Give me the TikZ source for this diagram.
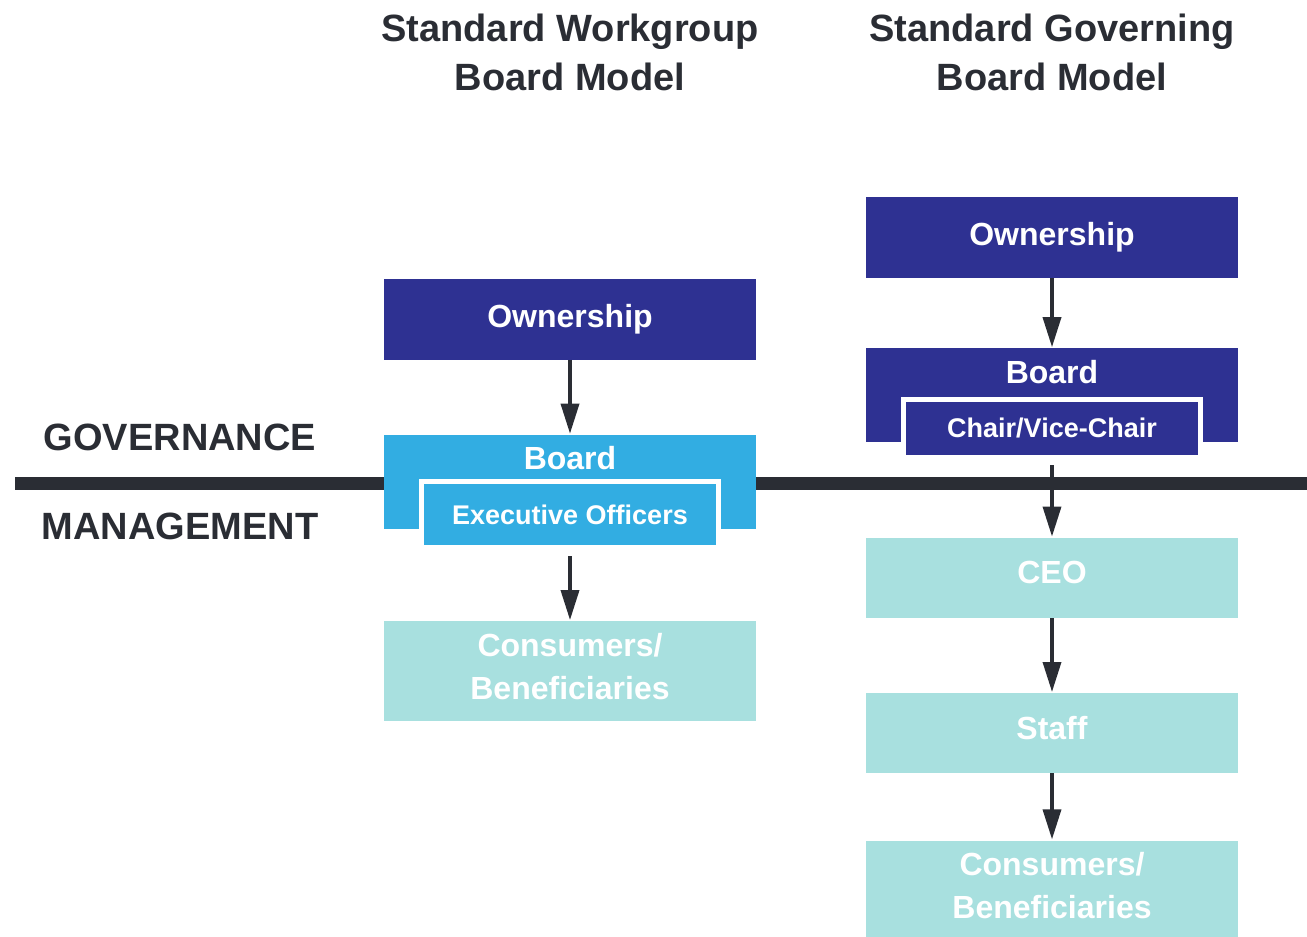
\documentclass[tikz,border=0pt]{standalone}
\usepackage{fontspec}
\setmainfont{Liberation Sans}
\usetikzlibrary{positioning,arrows.meta}
\definecolor{navy}{HTML}{2E3192}
\definecolor{sky}{HTML}{32ADE2}
\definecolor{mgmtteal}{HTML}{A8E0DF}
\definecolor{ink}{HTML}{2A2D34}

\begin{document}
\begin{tikzpicture}[x=1pt,y=-1pt,
  box/.style={rectangle,minimum width=372pt,inner sep=0pt,text=white,align=center,
    font=\fontsize{32}{43}\selectfont\bfseries},
  own node/.style={box,fill=navy,minimum height=81pt},
  board node/.style={box,minimum height=94pt,text height=28pt,text depth=52pt,inner ysep=7pt},
  sub node/.style={rectangle,draw=white,line width=5pt,minimum width=297pt,inner sep=0pt,
    text=white,font=\fontsize{27}{32}\selectfont\bfseries},
  mgmt node/.style={box,fill=mgmtteal,text depth=10pt},
  side label/.style={text=ink,font=\fontsize{38}{44}\selectfont\bfseries},
  title/.style={text=ink,align=center,font=\fontsize{38}{49}\selectfont\bfseries},
  link/.style={draw=ink,line width=3.5pt,-{Triangle[width=18pt,length=30pt]},shorten >=1pt}]

  \useasboundingbox (0,0) rectangle (1307,937);

  % governance / management divide
  \coordinate (rule west) at (15,483.5);
  \coordinate (rule east) at (1307,483.5);
  \draw[ink,line width=13pt] (rule west) -- (rule east);

  \node[side label] (gov) at (180,437) {GOVERNANCE};
  \node[side label] (mgmt) at (180,526) {MANAGEMENT};

  % workgroup model
  \node[title] (ltitle) at (570,52) {Standard Workgroup\\Board Model};
  \node[own node] (lown) at (570,319) {Ownership};
  \node[board node,fill=sky] (lboard) [below=75pt of lown] {Board};
  \node[sub node,fill=sky,minimum height=66pt] (lexec) at ([yshift=14.5pt]lboard.south) {Executive Officers};
  \node[mgmt node,minimum height=100pt] (lcons) [below=92pt of lboard] {Consumers/\\Beneficiaries};

  % governing model
  \node[title] (rtitle) at (1052,52) {Standard Governing\\Board Model};
  \node[own node] (rown) at (1052,237.5) {Ownership};
  \node[board node,fill=navy,minimum height=93pt] (rboard) [below=70pt of rown] {Board};
  \node[sub node,fill=navy,minimum height=58pt] (rchair) at ([yshift=14.5pt]rboard.south) {Chair/Vice-Chair};
  \node[mgmt node,minimum height=80pt] (rceo) [below=95pt of rboard] {CEO};
  \node[mgmt node,minimum height=80pt] (rstaff) [below=75pt of rceo] {Staff};
  \node[mgmt node,minimum height=99pt] (rcons) [below=67pt of rstaff] {Consumers/\\Beneficiaries};

  \draw[link] (lown) -- (lboard);
  \draw[link,shorten <=6pt] (lexec) -- (lcons);
  \draw[link] (rown) -- (rboard);
  \draw[link,shorten <=5.5pt] (rchair) -- (rceo);
  \draw[link] (rceo) -- (rstaff);
  \draw[link] (rstaff) -- (rcons);
\end{tikzpicture}
\end{document}
